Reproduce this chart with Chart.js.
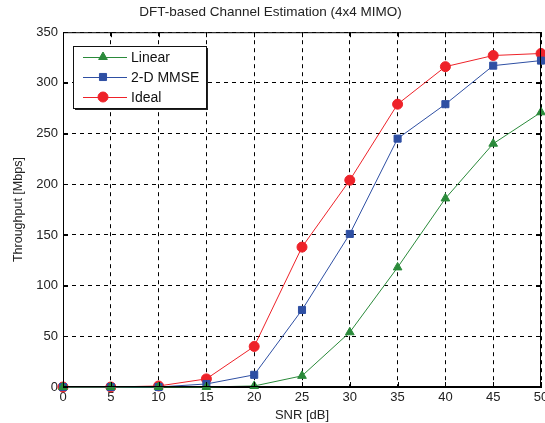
<!DOCTYPE html>
<html>
<head>
<meta charset="utf-8">
<script src="https://cdn.jsdelivr.net/npm/chart.js@4"></script>
<style>
  html, body { margin: 0; padding: 0; background: #fff; }
  #wrap { width: 545px; height: 423px; }
</style>
</head>
<body>
<div id="wrap"><canvas id="c" width="545" height="423"></canvas></div>
<script>
// SNR in dB
var snr = [0, 5, 10, 15, 20, 25, 30, 35, 40, 45, 50];
// throughput in Mbps
var linearEst = [0, 0, 0, 0, 1, 11, 54, 118, 186, 240, 271];
var mmseEst = [0, 0, 0, 3, 12, 76, 151, 245, 279, 317, 322];
var idealEst = [0, 0, 1, 8, 40, 138, 204, 279, 316, 327, 329];
var seriesNames = ['Linear', '2-D MMSE', 'Ideal'];
var seriesColors = ['#2a8a3a', '#2e4fa3', '#ee2229'];
var seriesMarkers = ['triangle', 'rect', 'circle'];

function pts(vals) {
    return vals.map(function(v, i) { return {x: snr[i], y: v}; });
}

var FONT = 'Liberation Sans, Arial, sans-serif';

// box, inward ticks and the legend, matlab style
var boxPlugin = {
    id: 'box',
    afterDraw: function(chart) {
        var ctx = chart.ctx;
        var a = chart.chartArea;
        var xs = chart.scales.x, ys = chart.scales.y;
        ctx.save();
        ctx.strokeStyle = '#000';
        ctx.lineWidth = 1;
        ctx.setLineDash([]);
        ctx.strokeRect(a.left + 0.5, a.top + 0.5, a.right - a.left - 1, a.bottom - a.top - 1);
        ctx.beginPath();
        xs.ticks.forEach(function(t) {
            var px = Math.round(xs.getPixelForValue(t.value)) + 0.5;
            ctx.moveTo(px, a.top); ctx.lineTo(px, a.top + 5);
            ctx.moveTo(px, a.bottom); ctx.lineTo(px, a.bottom - 5);
        });
        ys.ticks.forEach(function(t) {
            var py = Math.round(ys.getPixelForValue(t.value)) + 0.5;
            ctx.moveTo(a.left, py); ctx.lineTo(a.left + 5, py);
            ctx.moveTo(a.right, py); ctx.lineTo(a.right - 5, py);
        });
        ctx.stroke();

        // legend
        var lx = 73, ly = 46, lw = 133, lh = 62;
        ctx.fillStyle = '#fff';
        ctx.fillRect(lx, ly, lw, lh);
        ctx.fillStyle = '#222';
        ctx.fillRect(lx + 2, ly + lh, lw, 2);
        ctx.fillRect(lx + lw, ly + 2, 2, lh);
        ctx.strokeStyle = '#111';
        ctx.strokeRect(lx + 0.5, ly + 0.5, lw, lh);
        ctx.font = '14px ' + FONT;
        ctx.textBaseline = 'middle';
        chart.data.datasets.forEach(function(ds, i) {
            var yy = ly + 11 + i * 20;
            ctx.strokeStyle = ds.borderColor;
            ctx.lineWidth = 1;
            ctx.beginPath();
            ctx.moveTo(lx + 10, yy + 0.5); ctx.lineTo(lx + 54, yy + 0.5);
            ctx.stroke();
            ctx.fillStyle = ds.borderColor;
            Chart.helpers.drawPoint(ctx, {pointStyle: ds.pointStyle, radius: 5, borderWidth: 1, rotation: 0}, lx + 30, yy);
            ctx.fillStyle = '#111';
            ctx.fillText(ds.label, lx + 58, yy + 1);
        });
        ctx.restore();
    }
};

var datasets = [linearEst, mmseEst, idealEst].map(function(vals, i) {
    return {
        label: seriesNames[i],
        data: pts(vals),
        borderColor: seriesColors[i],
        backgroundColor: seriesColors[i],
        pointStyle: seriesMarkers[i],
        pointRadius: 5,
        pointBorderWidth: 1,
        borderWidth: 1,
        tension: 0,
        clip: false
    };
});

new Chart(document.getElementById('c'), {
    type: 'line',
    data: {datasets: datasets},
    options: {
        responsive: false,
        animation: false,
        layout: {autoPadding: false, padding: {left: 0, right: 4, top: 0, bottom: 0}},
        plugins: {
            legend: {display: false},
            tooltip: {enabled: false},
            title: {
                display: true,
                text: 'DFT-based Channel Estimation (4x4 MIMO)',
                color: '#222',
                font: {family: FONT, size: 13.5, weight: 'normal'},
                padding: {top: 4, bottom: 12}
            }
        },
        scales: {
            x: {
                type: 'linear',
                min: 0, max: 50,
                ticks: {stepSize: 5, color: '#222', padding: 3, font: {family: FONT, size: 13}, maxRotation: 0},
                grid: {color: '#000', lineWidth: 1, drawTicks: false},
                border: {display: true, color: '#000', dash: [4, 4]},
                title: {display: true, text: 'SNR [dB]', color: '#222', font: {family: FONT, size: 13}, padding: {top: 1, bottom: 0}},
                afterFit: function(s) { s.height = 36; s.paddingLeft = 0; s.paddingRight = 0; }
            },
            y: {
                min: 0, max: 350,
                ticks: {stepSize: 50, color: '#222', padding: 5, font: {family: FONT, size: 13}},
                grid: {color: '#000', lineWidth: 1, drawTicks: false},
                border: {display: true, color: '#000', dash: [4, 4]},
                title: {display: true, text: 'Throughput [Mbps]', color: '#222', font: {family: FONT, size: 12.5}, padding: {top: 11, bottom: 0}},
                afterFit: function(s) { s.width = 63; s.paddingTop = 0; s.paddingBottom = 0; }
            }
        }
    },
    plugins: [boxPlugin]
});
</script>
</body>
</html>
